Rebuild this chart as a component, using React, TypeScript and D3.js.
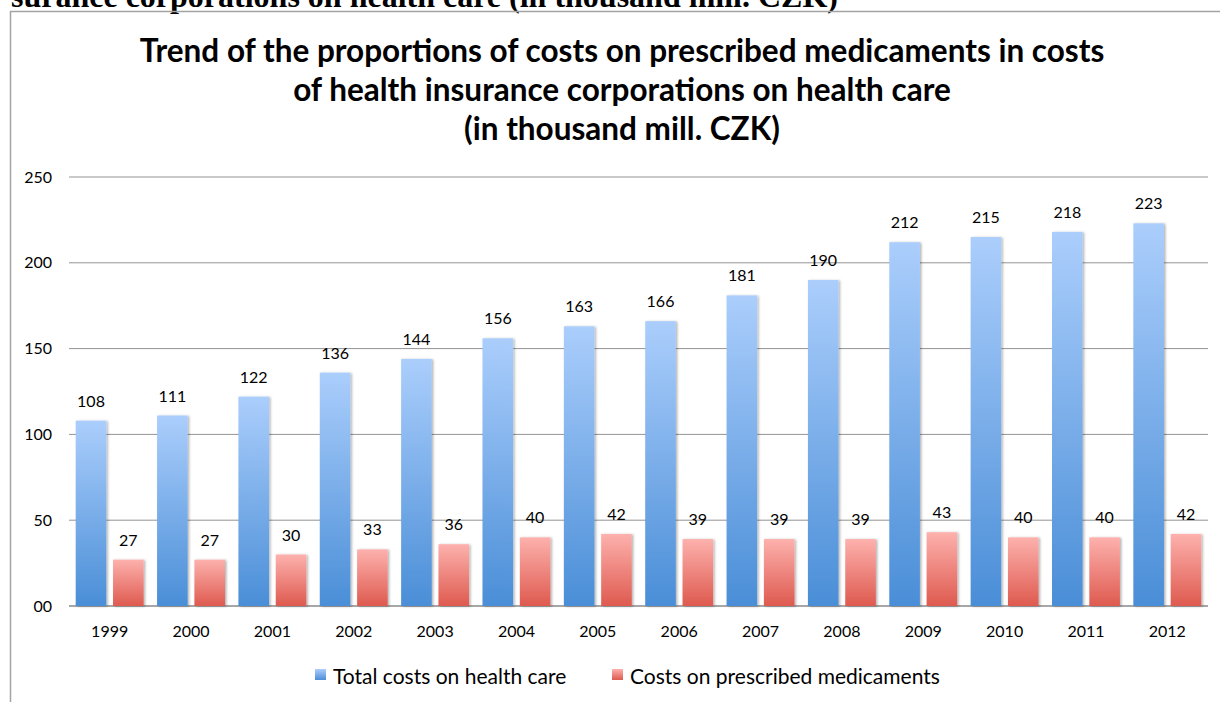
import React from 'react';
import * as d3 from 'd3';

const years = ['1999', '2000', '2001', '2002', '2003', '2004', '2005', '2006', '2007', '2008', '2009', '2010', '2011', '2012'];
const totalCosts = [108, 111, 122, 136, 144, 156, 163, 166, 181, 190, 212, 215, 218, 223];
const medCosts = [27, 27, 30, 33, 36, 40, 42, 39, 39, 39, 43, 40, 40, 42];
const yTicks = [0, 50, 100, 150, 200, 250];
const yTickLabels = ['00', '50', '100', '150', '200', '250'];
const seriesKeys = ['total', 'med'];
const seriesNames = ['Total costs on health care', 'Costs on prescribed medicaments'];
const titleLines = [
  'Trend of the proportions of costs on prescribed medicaments in costs',
  'of health insurance corporations on health care',
  '(in thousand mill. CZK)',
];
const clippedHeading = 'surance corporations on health care (in thousand mill. CZK)';

const FONT = 'Lato, "Open Sans", sans-serif';

export default function App() {
  const W = 1220;
  const H = 702;
  const x0 = d3.scaleBand<string>().domain(years).range([69, 1208]);
  const x1 = d3
    .scaleBand<string>()
    .domain(seriesKeys)
    .range([0, x0.bandwidth()])
    .paddingInner(0.18)
    .paddingOuter(0.18);
  const y = d3.scaleLinear().domain([0, 250]).range([606, 177]);
  const series = [totalCosts, medCosts];
  const grads = ['gBlue', 'gRed'];

  return (
    <svg width={W} height={H} style={{ position: 'absolute', left: 0, top: 0, background: '#fff' }}>
      <defs>
        <linearGradient id="gBlue" x1="0" y1="0" x2="0" y2="1">
          <stop offset="0%" stopColor="#abcefc" />
          <stop offset="100%" stopColor="#4a8ed7" />
        </linearGradient>
        <linearGradient id="gRed" x1="0" y1="0" x2="0" y2="1">
          <stop offset="0%" stopColor="#fdb1ad" />
          <stop offset="100%" stopColor="#de5a4f" />
        </linearGradient>
        <filter id="shadow" x="-20%" y="-5%" width="140%" height="110%">
          <feDropShadow dx="1.5" dy="0.5" stdDeviation="1.2" floodColor="#000" floodOpacity="0.3" />
        </filter>
      </defs>
      <rect x={0} y={0} width={W} height={H} fill="#fff" />
      {/* clipped heading from page above */}
      <text
        x={838}
        y={7}
        textAnchor="end"
        fontFamily='"Liberation Serif", "Times New Roman", serif'
        fontWeight="bold"
        fontSize={32}
        fill="#000"
      >
        {clippedHeading}
      </text>
      {/* chart frame */}
      <rect x={10.5} y={11.5} width={1260} height={760} fill="none" stroke="#a3a3a3" strokeWidth={1.5} />
      {/* title */}
      {titleLines.map((t, i) => (
        <text
          key={i}
          x={622}
          y={62 + i * 39}
          textAnchor="middle"
          fontFamily={FONT}
          fontWeight="bold"
          fontSize={31.5}
          fill="#000"
        >
          {t}
        </text>
      ))}
      {/* gridlines */}
      {yTicks.map((t, i) => (
        <g key={t}>
          <line
            x1={69}
            x2={1208}
            y1={y(t)}
            y2={y(t)}
            stroke={t === 0 ? '#8a8a8a' : '#939393'}
            strokeWidth={t === 0 ? 1.5 : 1}
          />
          <text x={52} y={y(t)} dy="0.35em" textAnchor="end" fontFamily={FONT} fontSize={16} fill="#000">
            {yTickLabels[i]}
          </text>
        </g>
      ))}
      {/* bars */}
      {years.map((yr, i) => (
        <g key={yr} transform={`translate(${x0(yr)},0)`}>
          {seriesKeys.map((k, s) => {
            const v = series[s][i];
            const bx = x1(k) as number;
            return (
              <g key={k}>
                <rect
                  x={bx}
                  y={y(v)}
                  width={x1.bandwidth()}
                  height={y(0) - y(v)}
                  fill={`url(#${grads[s]})`}
                  filter="url(#shadow)"
                />
                <text
                  x={bx + x1.bandwidth() / 2}
                  y={y(v) - 14}
                  textAnchor="middle"
                  fontFamily={FONT}
                  fontSize={16}
                  fill="#000"
                >
                  {v}
                </text>
              </g>
            );
          })}
          <text
            x={x0.bandwidth() / 2}
            y={637}
            textAnchor="middle"
            fontFamily={FONT}
            fontSize={16}
            fill="#000"
          >
            {yr}
          </text>
        </g>
      ))}
      {/* legend */}
      {seriesNames.map((n, s) => {
        const lx = [315, 612][s];
        return (
          <g key={n}>
            <rect x={lx} y={669} width={11} height={11} fill={`url(#${grads[s]})`} />
            <text x={lx + 18} y={684} fontFamily={FONT} fontSize={21} fill="#000">
              {n}
            </text>
          </g>
        );
      })}
    </svg>
  );
}
